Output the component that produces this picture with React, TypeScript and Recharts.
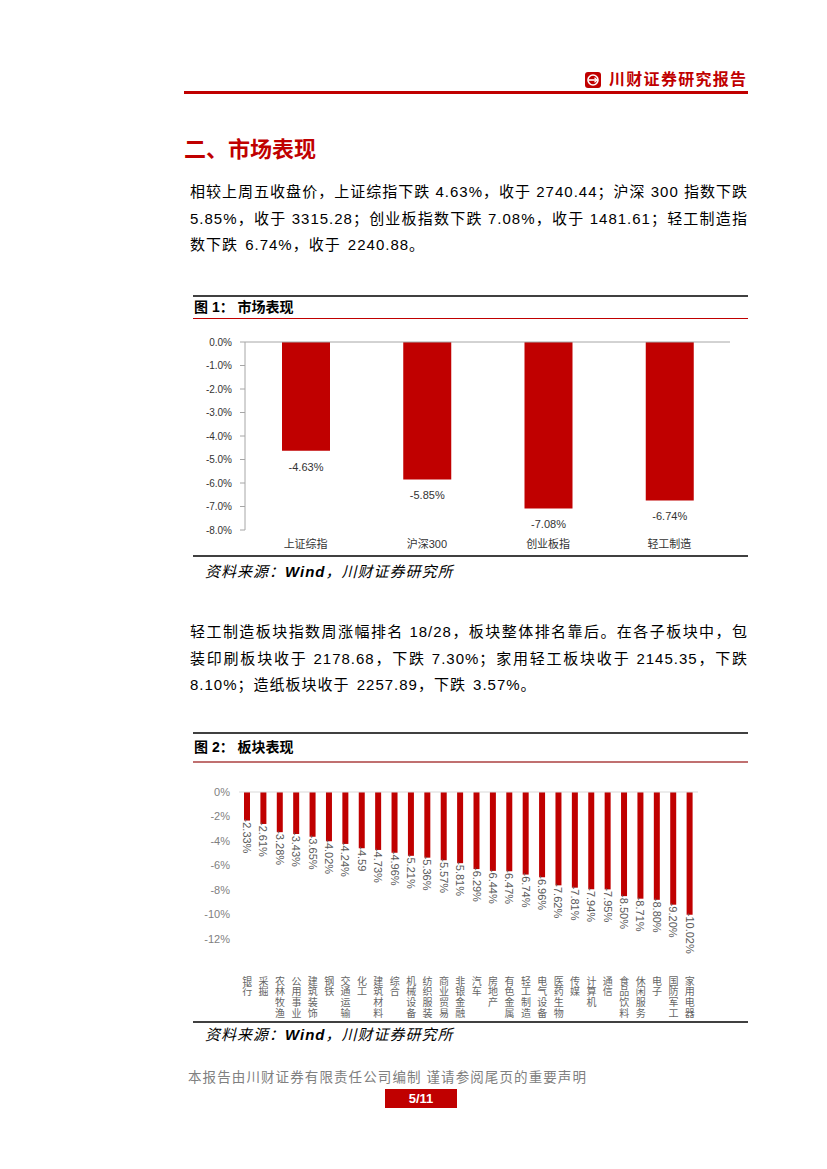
import React from 'react';
import { BarChart, Bar, XAxis, YAxis, ReferenceLine, LabelList } from 'recharts';

const idxCats = ['上证综指', '沪深300', '创业板指', '轻工制造'];
const idxVals = [-4.63, -5.85, -7.08, -6.74];
const idxTicks = [0, -1, -2, -3, -4, -5, -6, -7, -8];

const sectorCats = ['银行', '采掘', '农林牧渔', '公用事业', '建筑装饰', '钢铁', '交通运输', '化工', '建筑材料', '综合', '机械设备', '纺织服装', '商业贸易', '非银金融', '汽车', '房地产', '有色金属', '轻工制造', '电气设备', '医药生物', '传媒', '计算机', '通信', '食品饮料', '休闲服务', '电子', '国防军工', '家用电器'];
const sectorVals = [-2.33, -2.61, -3.28, -3.43, -3.65, -4.02, -4.24, -4.59, -4.73, -4.96, -5.21, -5.36, -5.57, -5.81, -6.29, -6.44, -6.47, -6.74, -6.96, -7.62, -7.81, -7.94, -7.95, -8.50, -8.71, -8.80, -9.20, -10.02];
const sectorLabels = ['-2.33%', '-2.61%', '-3.28%', '-3.43%', '-3.65%', '-4.02%', '-4.24%', '-4.59', '-4.73%', '-4.96%', '-5.21%', '-5.36%', '-5.57%', '-5.81%', '-6.29%', '-6.44%', '-6.47%', '-6.74%', '-6.96%', '-7.62%', '-7.81%', '-7.94%', '-7.95%', '-8.50%', '-8.71%', '-8.80%', '-9.20%', '-10.02%'];
const sectorTicks = [0, -2, -4, -6, -8, -10, -12];

const para1 = [
  '相较上周五收盘价，上证综指下跌 4.63%，收于 2740.44；沪深 300 指数下跌',
  '5.85%，收于 3315.28；创业板指数下跌 7.08%，收于 1481.61；轻工制造指',
  '数下跌 6.74%，收于 2240.88。',
];
const para2 = [
  '轻工制造板块指数周涨幅排名 18/28，板块整体排名靠后。在各子板块中，包',
  '装印刷板块收于 2178.68，下跌 7.30%；家用轻工板块收于 2145.35，下跌',
  '8.10%；造纸板块收于 2257.89，下跌 3.57%。',
];

const FONT = '"Liberation Sans", "Noto Sans CJK SC", sans-serif';
const RED = '#c00000';

const idxData = idxCats.map((c, i) => ({ cat: c, v: idxVals[i] }));
const sectorData = sectorCats.map((c, i) => ({ cat: c, v: sectorVals[i], lab: sectorLabels[i] }));

const abs = (l: number, t: number, extra: React.CSSProperties = {}): React.CSSProperties => ({
  position: 'absolute', left: l, top: t, ...extra,
});

const Line = ({ l, t, w, h, c }: { l: number; t: number; w: number; h: number; c: string }) => (
  <div style={abs(l, t, { width: w, height: h, background: c })} />
);

const TextLine = ({ text, top, last }: { text: string; top: number; last?: boolean }) => (
  <div
    style={abs(190, top, {
      width: 558,
      height: 26,
      lineHeight: '26px',
      fontSize: 15,
      letterSpacing: 1,
      color: '#000',
      textAlign: last ? 'left' : 'justify',
      textAlignLast: last ? 'left' : 'justify',
      textJustify: 'inter-character',
      wordSpacing: last ? 2 : 0,
    } as React.CSSProperties)}
  >
    {text}
  </div>
);

const IdxTick = (props: any) => {
  const { x, y, payload } = props;
  return (
    <text x={x} y={y + 14} textAnchor="middle" dominantBaseline="central" fontSize={11} fill="#333">
      {payload.value}
    </text>
  );
};

const IdxLabel = (props: any) => {
  const { x, y, width, height, value } = props;
  const bottom = Math.max(y, y + height);
  return (
    <text x={x + width / 2} y={bottom + 16} textAnchor="middle" dominantBaseline="central" fontSize={11} fill="#333">
      {Number(value).toFixed(2) + '%'}
    </text>
  );
};

const SectorTick = (props: any) => {
  const { x, y, payload } = props;
  const chars = String(payload.value).split('');
  return (
    <g>
      {chars.map((ch, i) => (
        <text key={i} x={x} y={y + 42 + i * 10.7} textAnchor="middle" dominantBaseline="central" fontSize={10} fill="#666">
          {ch}
        </text>
      ))}
    </g>
  );
};

const SectorLabel = (props: any) => {
  const { x, y, width, height, value } = props;
  const cx = x + width / 2;
  const bottom = Math.max(y, y + height) - 2;
  return (
    <text
      x={cx}
      y={bottom}
      transform={`rotate(90, ${cx}, ${bottom})`}
      textAnchor="start"
      dominantBaseline="central"
      fontSize={11}
      fill="#595959"
    >
      {value}
    </text>
  );
};

const Logo = () => (
  <svg width={16} height={16} style={abs(585, 72)}>
    <rect x={0} y={0} width={16} height={16} rx={3} fill={RED} />
    <circle cx={8} cy={8} r={5} fill="none" stroke="#fff" strokeWidth={1.6} />
    <line x1={4} y1={8} x2={12} y2={8} stroke="#fff" strokeWidth={1.6} />
    <polyline points="9.5,5.8 12,8 9.5,10.2" fill="none" stroke="#fff" strokeWidth={1.2} />
  </svg>
);

export default function App() {
  return (
    <div style={abs(0, 0, { width: 827, height: 1169, background: '#fff', fontFamily: FONT, overflow: 'hidden' })}>
      {/* header */}
      <Logo />
      <div style={abs(609, 69, { fontSize: 16, fontWeight: 700, color: RED, letterSpacing: 1.3, lineHeight: '22px' })}>
        川财证券研究报告
      </div>
      <Line l={184} t={91} w={564} h={3} c={RED} />

      {/* section title */}
      <div style={abs(184, 136, { fontSize: 22, fontWeight: 700, color: RED, lineHeight: '28px' })}>二、市场表现</div>

      {para1.map((t, i) => (
        <TextLine key={i} text={t} top={179 + i * 26.5} last={i === para1.length - 1} />
      ))}

      {/* figure 1 */}
      <Line l={193} t={295} w={555} h={2} c="#404040" />
      <div style={abs(194, 297, { fontSize: 14, fontWeight: 700, color: '#000', lineHeight: '21px' })}>
        图 1：&nbsp;市场表现
      </div>
      <Line l={193} t={318} w={555} h={1} c={RED} />
      <div style={abs(184, 332)}>
        <BarChart width={556} height={224} data={idxData} margin={{ top: 10, right: 10, left: 0, bottom: 0 }}>
          <XAxis dataKey="cat" axisLine={false} tickLine={false} tickSize={0} tickMargin={0} height={26} tick={<IdxTick />} interval={0} />
          <YAxis
            type="number"
            domain={[-8, 0]}
            ticks={idxTicks}
            interval={0}
            width={61}
            tickFormatter={(v: number) => v.toFixed(1) + '%'}
            axisLine={{ stroke: '#a6a6a6' }}
            tickLine={{ stroke: '#a6a6a6' }}
            tickSize={5}
            tickMargin={8}
            tick={{ fontSize: 10, fill: '#333' }}
          />
          <ReferenceLine y={0} stroke="#a6a6a6" />
          <Bar dataKey="v" fill={RED} barSize={48} isAnimationActive={false}>
            <LabelList dataKey="v" content={<IdxLabel />} />
          </Bar>
        </BarChart>
      </div>
      <Line l={193} t={555} w={555} h={2} c="#404040" />
      <div style={abs(205, 561, { fontSize: 15, fontStyle: 'italic', color: '#000', lineHeight: '22px', letterSpacing: 1 })}>
        资料来源：<b>Wind</b>，川财证券研究所
      </div>

      {para2.map((t, i) => (
        <TextLine key={i} text={t} top={619 + i * 26.5} last={i === para2.length - 1} />
      ))}

      {/* figure 2 */}
      <Line l={193} t={732} w={555} h={2} c="#404040" />
      <div style={abs(194, 737, { fontSize: 14, fontWeight: 700, color: '#000', lineHeight: '21px' })}>
        图 2：&nbsp;板块表现
      </div>
      <Line l={193} t={761} w={555} h={2} c="#c07070" />
      <div style={abs(184, 782)}>
        <BarChart width={514} height={240} data={sectorData} margin={{ top: 10, right: 0, left: 0, bottom: 0 }}>
          <XAxis dataKey="cat" axisLine={false} tickLine={false} tickSize={0} tickMargin={0} height={83} tick={<SectorTick />} interval={0} />
          <YAxis
            type="number"
            domain={[-12, 0]}
            ticks={sectorTicks}
            interval={0}
            width={55}
            tickFormatter={(v: number) => v + '%'}
            axisLine={false}
            tickLine={false}
            tickSize={0}
            tickMargin={9}
            tick={{ fontSize: 11, fill: '#7f7f7f' }}
          />
          <ReferenceLine y={0} stroke="#d9d9d9" />
          <Bar dataKey="v" fill={RED} barSize={6} isAnimationActive={false}>
            <LabelList dataKey="lab" content={<SectorLabel />} />
          </Bar>
        </BarChart>
      </div>
      <Line l={193} t={1021} w={555} h={2} c="#404040" />
      <div style={abs(205, 1024, { fontSize: 15, fontStyle: 'italic', color: '#000', lineHeight: '22px', letterSpacing: 1 })}>
        资料来源：<b>Wind</b>，川财证券研究所
      </div>

      {/* footer */}
      <div style={abs(188, 1069, { fontSize: 13.5, color: '#808080', lineHeight: '18px', letterSpacing: 1.1 })}>
        本报告由川财证券有限责任公司编制 谨请参阅尾页的重要声明
      </div>
      <div
        style={abs(385, 1089, {
          width: 72,
          height: 19,
          background: RED,
          color: '#fff',
          fontWeight: 700,
          fontSize: 13,
          lineHeight: '19px',
          textAlign: 'center',
        })}
      >
        5/11
      </div>
    </div>
  );
}
